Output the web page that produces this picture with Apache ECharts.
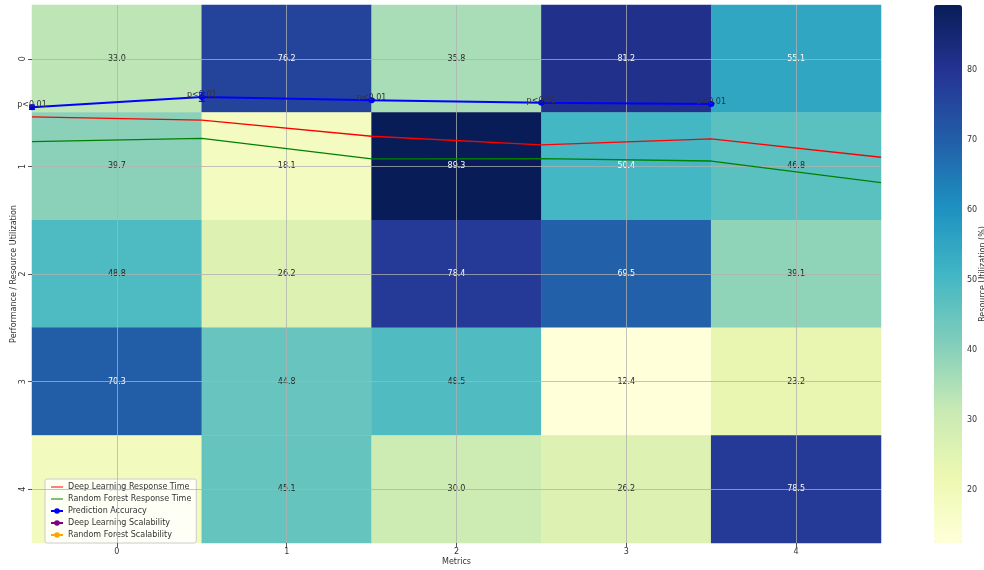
<!DOCTYPE html>
<html>
<head>
<meta charset="utf-8">
<script src="https://cdn.jsdelivr.net/npm/echarts@6/dist/echarts.min.js"></script>
<style>
  html, body { margin: 0; padding: 0; background: #fff; }
  #chart { width: 984px; height: 570px; }
</style>
</head>
<body>
<div id="chart"></div>
<script>
// heatmap categories and values (rows top to bottom)
const metrics = ['0', '1', '2', '3', '4'];
const rows = ['0', '1', '2', '3', '4'];
const utilRow0 = [33.0, 76.2, 35.8, 81.2, 55.1];
const utilRow1 = [39.7, 18.1, 89.3, 50.4, 46.8];
const utilRow2 = [48.8, 26.2, 78.4, 69.5, 39.1];
const utilRow3 = [70.3, 44.8, 48.5, 12.4, 23.2];
const utilRow4 = [19.0, 45.1, 30.0, 26.2, 78.5];

// overlay lines, in cell units (x 0..5 across, y 0..5 down)
const responseX = [0, 1, 2, 3, 4, 5];
const dlResponse = [1.04, 1.07, 1.22, 1.30, 1.245, 1.415];
const rfResponse = [1.27, 1.24, 1.43, 1.428, 1.45, 1.65];
const accuracyX = [0, 1, 2, 3, 4];
const accuracy = [0.95, 0.855, 0.885, 0.908, 0.92];
const accuracyErr = [0.02, 0.04, 0.01, 0.01, 0.01];
const pLabel = 'p<0.01';

const cbTicks = [20, 30, 40, 50, 60, 70, 80];
const YlGnBu = ['#ffffd9', '#edf8b1', '#c7e9b4', '#7fcdbb', '#41b6c4', '#1d91c0', '#225ea8', '#253494', '#081d58'];

const allRows = [utilRow0, utilRow1, utilRow2, utilRow3, utilRow4];
let heatData = [];
let vmin = Infinity, vmax = -Infinity;
allRows.forEach(function (r, j) {
    r.forEach(function (v, i) {
        vmin = Math.min(vmin, v);
        vmax = Math.max(vmax, v);
        heatData.push({
            value: [i, j, v],
            label: { color: v >= 49.5 ? '#ffffff' : '#262626' }
        });
    });
});

const font = 'DejaVu Sans';
const plot = { left: 32, top: 5, width: 849, height: 538, outerBoundsMode: 'none', containLabel: false };
const gridLine = { show: true, alignWithLabel: true, lineStyle: { color: 'rgba(176,176,176,0.75)', width: 1 } };
// plain line icon for legend (tiny end specks keep the box height)
const lineIcon = 'path://M0,0h0.01v0.01h-0.01z M0,3h20v2h-20z M0,8h0.01v0.01h-0.01z';

let chart = echarts.init(document.getElementById('chart'));

let option = {
    backgroundColor: '#fff',
    animation: false,
    textStyle: { fontFamily: font },
    grid: [
        Object.assign({}, plot),
        Object.assign({}, plot),
        { left: 934, top: 5, width: 28, height: 538, outerBoundsMode: 'none', containLabel: false }
    ],
    xAxis: [
        {
            type: 'category', gridIndex: 0, data: metrics, z: 5,
            name: 'Metrics', nameLocation: 'middle', nameGap: 15, nameMoveOverlap: false,
            nameTextStyle: { fontSize: 8, color: '#333' },
            axisLine: { show: false },
            axisTick: { show: true, alignWithLabel: true, length: 4, lineStyle: { color: '#555' } },
            axisLabel: { fontSize: 8, color: '#333', margin: 5 },
            splitLine: gridLine
        },
        { type: 'value', gridIndex: 1, min: 0, max: 5, show: false },
        { type: 'value', gridIndex: 2, min: 0, max: 1, show: false }
    ],
    yAxis: [
        {
            type: 'category', gridIndex: 0, data: rows, inverse: true, z: 5,
            name: 'Performance / Resource Utilization', nameLocation: 'middle', nameGap: 14, nameRotate: 90,
            nameMoveOverlap: false,
            nameTextStyle: { fontSize: 8, color: '#333' },
            axisLine: { show: false },
            axisTick: { show: true, alignWithLabel: true, length: 4, lineStyle: { color: '#555' } },
            axisLabel: { fontSize: 8, color: '#333', rotate: 90, margin: 5 },
            splitLine: gridLine
        },
        { type: 'value', gridIndex: 1, min: 0, max: 5, inverse: true, show: false },
        {
            type: 'value', gridIndex: 2, position: 'right', min: vmin, max: vmax,
            name: 'Resource Utilization (%)', nameLocation: 'middle', nameGap: 17, nameRotate: 90,
            nameMoveOverlap: false,
            nameTextStyle: { fontSize: 8, color: '#333' },
            axisLine: { show: false },
            splitLine: { show: false },
            axisTick: { show: true, length: 4, customValues: cbTicks, lineStyle: { color: '#555' } },
            axisLabel: { fontSize: 8, color: '#333', margin: 5, customValues: cbTicks }
        }
    ],
    visualMap: {
        type: 'continuous', seriesIndex: 0, min: vmin, max: vmax,
        left: 934, top: 5, itemWidth: 28, itemHeight: 538, padding: 0,
        calculable: false, hoverLink: false,
        inRange: { color: YlGnBu }
    },
    legend: {
        orient: 'vertical', left: 45, top: 479,
        itemWidth: 12, itemHeight: 7, itemGap: 4,
        padding: [4, 5, 4, 5],
        backgroundColor: 'rgba(255,255,255,0.85)', borderColor: '#cccccc', borderWidth: 1, borderRadius: 2,
        textStyle: { fontSize: 8, color: '#333' },
        data: [
            { name: 'Deep Learning Response Time', icon: lineIcon },
            { name: 'Random Forest Response Time', icon: lineIcon },
            'Prediction Accuracy', 'Deep Learning Scalability', 'Random Forest Scalability'
        ]
    },
    series: [
        {
            type: 'heatmap', xAxisIndex: 0, yAxisIndex: 0, data: heatData,
            label: { show: true, fontSize: 8, formatter: function (p) { return p.value[2].toFixed(1); } },
            itemStyle: { borderWidth: 0 }
        },
        {
            name: 'Deep Learning Response Time', type: 'line', xAxisIndex: 1, yAxisIndex: 1,
            data: responseX.map(function (x, i) { return [x, dlResponse[i]]; }),
            symbol: 'none', color: '#ff0000', lineStyle: { width: 1.3 }, z: 10
        },
        {
            name: 'Random Forest Response Time', type: 'line', xAxisIndex: 1, yAxisIndex: 1,
            data: responseX.map(function (x, i) { return [x, rfResponse[i]]; }),
            symbol: 'none', color: '#008000', lineStyle: { width: 1.3 }, z: 10
        },
        {
            name: 'Prediction Accuracy', type: 'line', xAxisIndex: 1, yAxisIndex: 1,
            data: accuracyX.map(function (x, i) { return [x, accuracy[i]]; }),
            symbol: 'circle', symbolSize: 6, showAllSymbol: true, color: '#0000ff', lineStyle: { width: 2 }, z: 11,
            label: {
                show: true, position: 'inside', offset: [0, -2], fontSize: 8, color: '#333',
                formatter: function () { return pLabel; }
            }
        },
        {
            type: 'custom', xAxisIndex: 1, yAxisIndex: 1, z: 11, silent: true,
            data: accuracyX.map(function (x, i) { return [x, accuracy[i], accuracyErr[i]]; }),
            renderItem: function (params, api) {
                const x = api.value(0), y = api.value(1), e = api.value(2);
                const top = api.coord([x, y - e]);
                const bot = api.coord([x, y + e]);
                const st = { stroke: '#0000ff', lineWidth: 1.2 };
                return {
                    type: 'group',
                    children: [
                        { type: 'line', shape: { x1: top[0], y1: top[1], x2: bot[0], y2: bot[1] }, style: st },
                        { type: 'line', shape: { x1: top[0] - 3, y1: top[1], x2: top[0] + 3, y2: top[1] }, style: st },
                        { type: 'line', shape: { x1: bot[0] - 3, y1: bot[1], x2: bot[0] + 3, y2: bot[1] }, style: st }
                    ]
                };
            }
        },
        {
            name: 'Deep Learning Scalability', type: 'line', xAxisIndex: 1, yAxisIndex: 1,
            data: [], symbol: 'circle', symbolSize: 6, color: '#800080', lineStyle: { width: 2 }
        },
        {
            name: 'Random Forest Scalability', type: 'line', xAxisIndex: 1, yAxisIndex: 1,
            data: [], symbol: 'circle', symbolSize: 6, color: '#ffa500', lineStyle: { width: 2 }
        }
    ]
};
chart.setOption(option);
</script>
</body>
</html>
